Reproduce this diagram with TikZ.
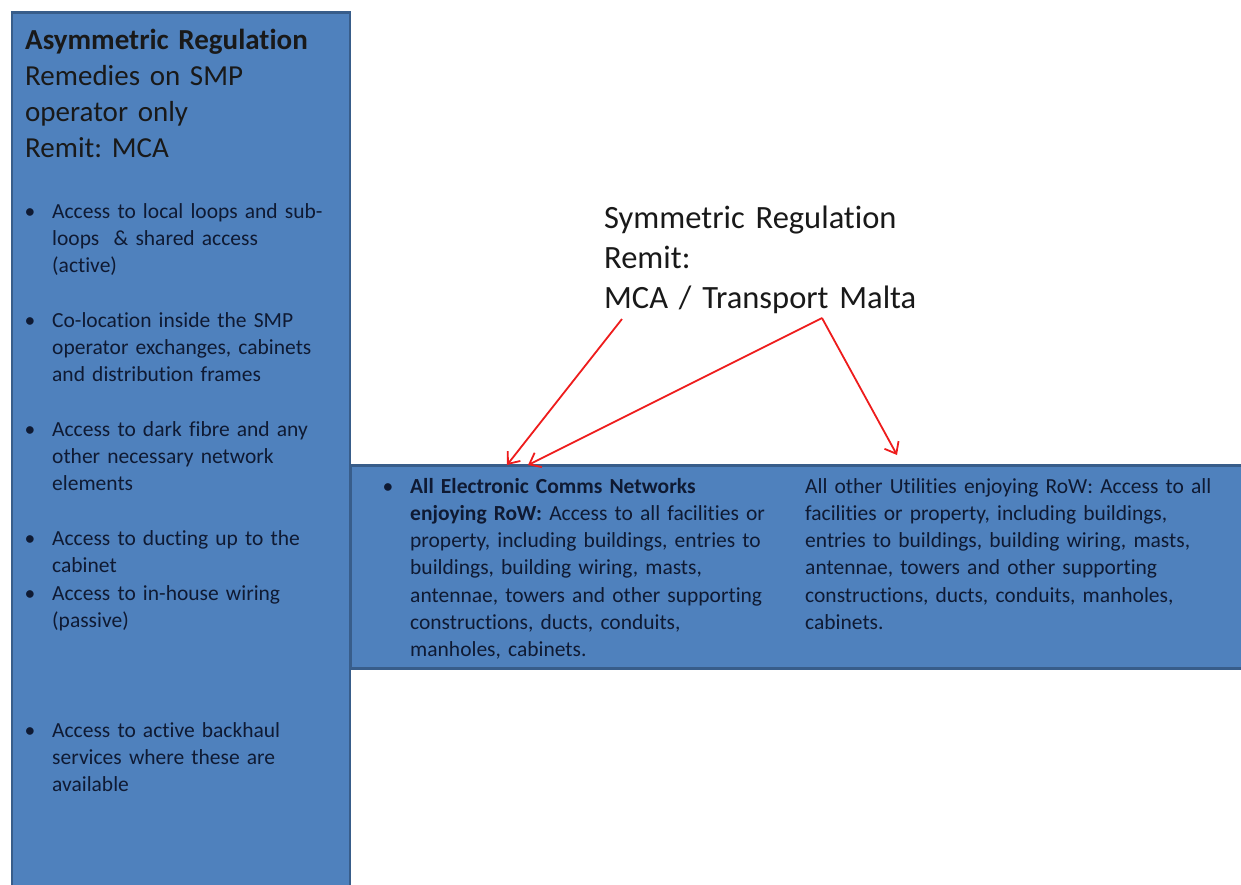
\documentclass[tikz,border=0pt]{standalone}
\usepackage{fontspec}
\setmainfont{Carlito}[Ligatures=NoCommon]
\usetikzlibrary{arrows.meta}
\definecolor{boxfill}{HTML}{4F81BD}
\definecolor{boxline}{HTML}{385D8A}
\definecolor{boxtext}{HTML}{0F1A33}
\definecolor{arrowred}{HTML}{EE1C1C}
\frenchspacing
\begin{document}
\begin{tikzpicture}[x=1pt,y=-1pt,
  panel/.style={fill=boxfill,draw=boxline,line width=2.5pt,inner sep=0pt,anchor=north west},
  small/.style={anchor=base west,inner sep=0pt,text width=#1,align=left,
    font=\fontsize{21.5}{27.3}\selectfont,text=boxtext},
  small/.default=320pt,
  dot/.style={anchor=base,inner sep=0pt,font=\fontsize{21.5}{27.3}\selectfont,text=boxtext},
  title/.style={anchor=base west,inner sep=0pt,text width=330pt,align=left,
    font=\fontsize{29}{36}\selectfont,text=black!90},
  sym/.style={anchor=base west,inner sep=0pt,text width=420pt,align=left,
    font=\fontsize{32.5}{40}\selectfont,text=black!90},
  redarrow/.style={draw=arrowred,line width=1.8pt,-{Straight Barb[length=10pt,width=16pt,line width=1.8pt]}}
]
\useasboundingbox (0,0) rectangle (1241,884);
\clip (0,0) rectangle (1241,884);
\fill[white] (0,0) rectangle (1241,884);
% panels
\node[panel,minimum width=910pt,minimum height=203pt] (band) at (349,464) {};
\node[panel,minimum width=338pt,minimum height=900pt] (left) at (10.5,11) {};
% left title
\node[title] (ttl) at (25,49) {\textbf{Asymmetric Regulation}\\Remedies on SMP\\operator only\\Remit: MCA};
% left bullets
\node[dot] (d1) at (30,218) {•};
\node[small] (l1) at (52,218) {Access to local loops and sub-\\loops \ \& shared access\\(active)};
\node[dot] (d2) at (30,327) {•};
\node[small] (l2) at (52,327) {Co-location inside the SMP\\operator exchanges, cabinets\\and distribution frames};
\node[dot] (d3) at (30,436) {•};
\node[small] (l3) at (52,436) {Access to dark fibre and any\\other necessary network\\elements};
\node[dot] (d4) at (30,545) {•};
\node[small] (l4) at (52,545) {Access to ducting up to the\\cabinet};
\node[dot] (d5) at (30,600) {•};
\node[small] (l5) at (52,600) {Access to in-house wiring\\(passive)};
\node[dot] (d6) at (30,737) {•};
\node[small] (l6) at (52,737) {Access to active backhaul\\services where these are\\available};
% band texts
\node[dot] (d7) at (388,493) {•};
\node[small=380pt] (r1) at (410,493) {\textbf{All Electronic Comms Networks}\\\textbf{enjoying RoW:} Access to all facilities or\\property, including buildings, entries to\\buildings, building wiring, masts,\\antennae, towers and other supporting\\constructions, ducts, conduits,\\manholes, cabinets.};
\node[small=430pt] (r2) at (805,493) {All other Utilities enjoying RoW: Access to all\\facilities or property, including buildings,\\entries to buildings, building wiring, masts,\\antennae, towers and other supporting\\constructions, ducts, conduits, manholes,\\cabinets.};
% symmetric label
\node[sym] (symm) at (604,228) {Symmetric Regulation\\Remit:\\MCA / Transport Malta};
% arrows
\coordinate (s1) at (622,319);
\coordinate (s2) at (822,318);
\coordinate (t1) at (507,465);
\coordinate (t2) at (528,465);
\coordinate (t3) at (897,455);
\draw[redarrow] (s1) -- (t1);
\draw[redarrow] (s2) -- (t2);
\draw[redarrow] (s2) -- (t3);
\end{tikzpicture}
\end{document}
